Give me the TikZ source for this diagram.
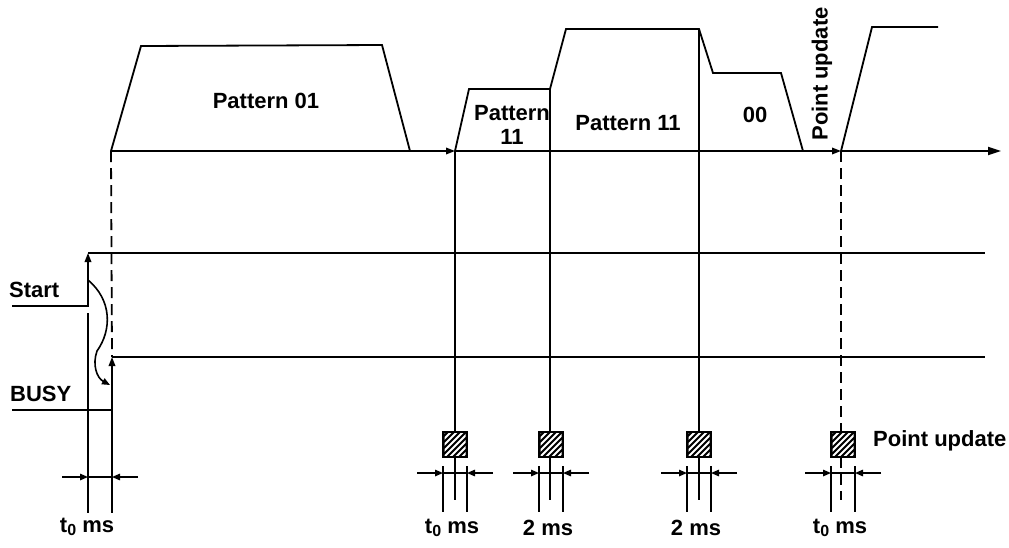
\documentclass[tikz,border=0pt]{standalone}
\usepackage{fontspec}
\setmainfont{Liberation Sans}
\usetikzlibrary{arrows.meta}
\newcommand{\tzero}{t\raisebox{-3pt}{\fontsize{16}{16}\selectfont 0}}
\tikzset{
  wave/.style={line width=1.8pt, line join=miter},
  lbl/.style={font=\fontsize{22}{25}\selectfont\bfseries, inner sep=0pt},
  tip/.style={-{Triangle[length=9pt,width=6.5pt]}},
  dimtip/.style={-{Triangle[length=8pt,width=6.5pt]}},
  dashedline/.style={line width=1.8pt, dash pattern=on 11pt off 6pt},
}
\begin{document}
\begin{tikzpicture}[x=1pt,y=-1pt]
\useasboundingbox (0,0) rectangle (1009,547);
% ---- key coordinates ----
\coordinate (a0) at (111,151);
\coordinate (a1) at (455,151);
\coordinate (a2) at (841,151);
\coordinate (a3) at (1001,151);
% ---- time axis ----
\draw[wave,tip] (a0) -- (a1);
\draw[wave,tip] (a1) -- (a2);
\draw[wave,-{Triangle[length=13pt,width=8pt]}] (a2) -- (a3);
% ---- speed patterns ----
\draw[wave] (a0) -- (141,46) -- (382,45) -- (410,151);
\draw[wave] (a1) -- (469,89) -- (550,89) -- (566,29) -- (699,29) -- (713,73) -- (781,73) -- (803,151);
\draw[wave] (a2) -- (872,27) -- (938,27);
\node[lbl] (p01) at (266,101) {Pattern 01};
\node[lbl] (p11a) at (512,113) {Pattern};
\node[lbl] (p11b) at (512,137) {11};
\node[lbl] (p11c) at (628,123) {Pattern 11};
\node[lbl] (p00) at (755,115) {00};
\node[lbl,rotate=90] (pu1) at (822,74) {Point update};
% ---- vertical timing lines ----
\coordinate (v1b) at (455,500);
\coordinate (v2t) at (550,89);
\coordinate (v2b) at (550,500);
\coordinate (v3t) at (699,29);
\coordinate (v3b) at (699,500);
\coordinate (v4b) at (841,500);
\draw[wave] (a1) -- (v1b);
\draw[wave] (v2t) -- (v2b);
\draw[wave] (v3t) -- (v3b);
\draw[dashedline] (a2) -- (v4b);
% ---- Start signal ----
\coordinate (s0) at (12,306);
\coordinate (s1) at (88,306);
\coordinate (s2) at (88,253);
\coordinate (s3) at (985,253);
\draw[wave,tip] (s0) -- (s1) -- (s2);
\draw[wave] (s2) -- (s3);
\node[lbl,anchor=west] (start) at (9,290) {Start};
% ---- BUSY signal ----
\coordinate (b0) at (12,410);
\coordinate (b1) at (112,410);
\coordinate (b2) at (112,357);
\coordinate (b3) at (985,357);
\draw[wave,tip] (b0) -- (b1) -- (b2);
\draw[wave] (b2) -- (b3);
\node[lbl,anchor=west] (busy) at (10,394) {BUSY};
\draw[dashedline] (a0) -- (b2);
% Start -> BUSY wavy arrow
\coordinate (w0) at (88,280);
\coordinate (w1) at (97,351);
\coordinate (w2) at (110,385);
\draw[line width=1.6pt,dimtip] (w0) .. controls (112,300) and (112,330) .. (w1) .. controls (92,365) and (97,378) .. (w2);
% ---- first t0 dimension ----
\coordinate (l1t) at (88,313);
\coordinate (l1b) at (88,513);
\coordinate (l2b) at (112,513);
\draw[wave] (l1t) -- (l1b);
\draw[wave] (b1) -- (l2b);
\coordinate (d1l) at (62,477);
\coordinate (d1a) at (88,477);
\coordinate (d1r) at (138,477);
\coordinate (d1b) at (112,477);
\draw[line width=1.4pt,dimtip] (d1l) -- (d1a);
\draw[line width=1.4pt,dimtip] (d1r) -- (d1b);
\draw[line width=1.4pt] (d1a) -- (d1b);
\node[lbl] (t0a) at (87,527) {\tzero\ ms};
% ---- bottom markers ----
\foreach \c/\lab/\nm in {455/\tzero\ ms/m1, 551/2 ms/m2, 699/2 ms/m3, 843/\tzero\ ms/m4}{
  \fill[black] (\c-12,432) rectangle (\c+12,457);
  \begin{scope}
    \clip (\c-10.5,433.5) rectangle (\c+10.5,455.5);
    \foreach \k in {-30,-24,...,30}{
      \draw[white,line width=1.8pt] (\c-12+\k,458) -- (\c+14+\k,432);
    }
  \end{scope}
  \draw[line width=1.4pt] (\c-12,432) rectangle (\c+12,457);
  \coordinate (\nm l) at (\c-12,473);
  \coordinate (\nm r) at (\c+12,473);
  \draw[wave] (\c-12,466) -- (\c-12,512);
  \draw[wave] (\c+12,466) -- (\c+12,512);
  \draw[line width=1.4pt,dimtip] (\c-38,473) -- (\nm l);
  \draw[line width=1.4pt,dimtip] (\c+38,473) -- (\nm r);
  \draw[line width=1.4pt] (\nm l) -- (\nm r);
  \node[lbl] (\nm t) at (\c-3,528) {\lab};
}
\node[lbl,anchor=west] (pu2) at (873,441) {Point update};
\end{tikzpicture}
\end{document}
